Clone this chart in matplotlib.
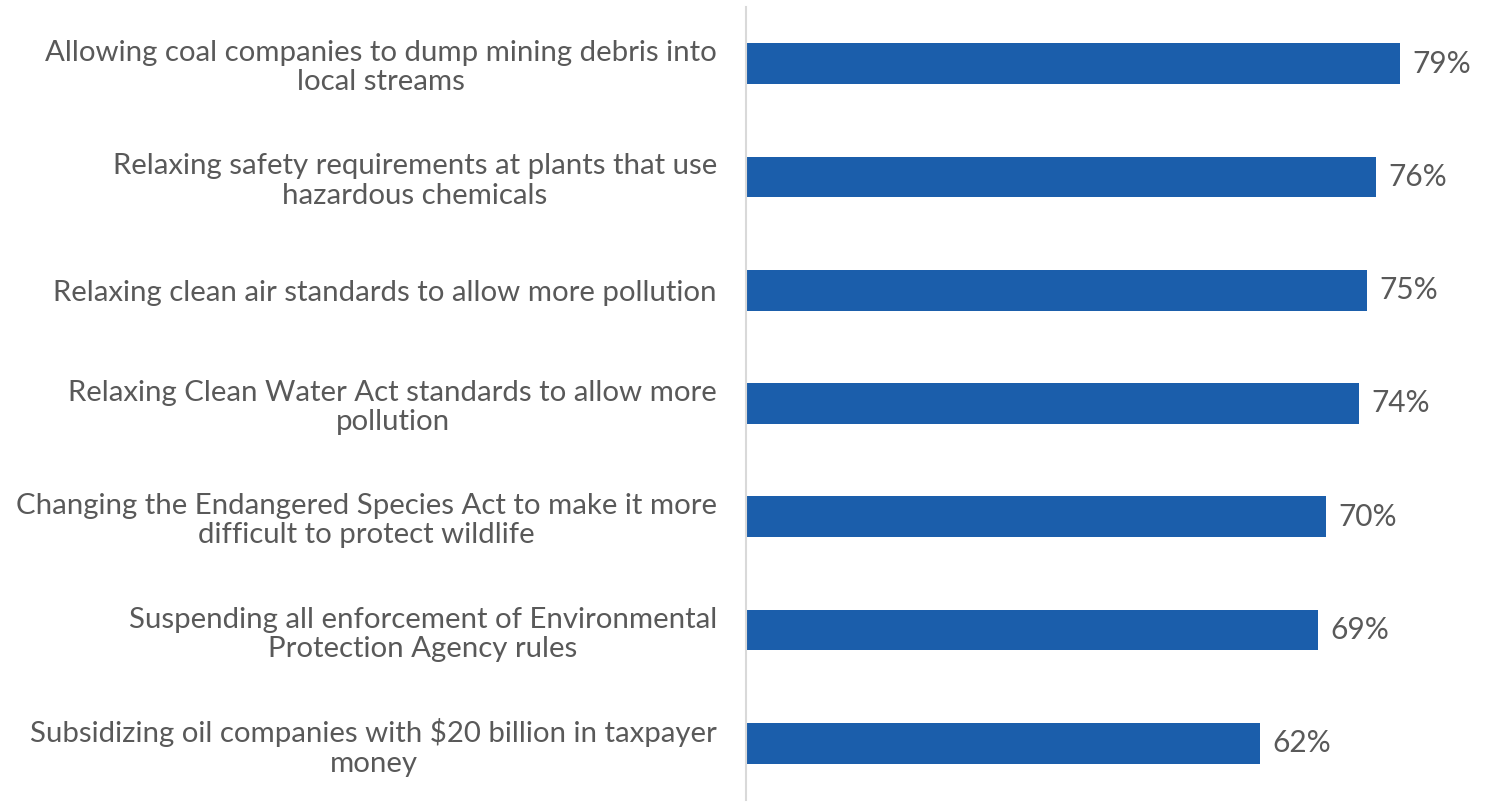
import matplotlib
matplotlib.use("Agg")
import matplotlib.pyplot as plt

labels = [
    "Allowing coal companies to dump mining debris into\nlocal streams",
    "Relaxing safety requirements at plants that use\nhazardous chemicals",
    "Relaxing clean air standards to allow more pollution",
    "Relaxing Clean Water Act standards to allow more\npollution",
    "Changing the Endangered Species Act to make it more\ndifficult to protect wildlife",
    "Suspending all enforcement of Environmental\nProtection Agency rules",
    "Subsidizing oil companies with $20 billion in taxpayer\nmoney",
]
values = [79, 76, 75, 74, 70, 69, 62]

plt.rcParams['font.family'] = ['Lato', 'DejaVu Sans']
text_color = '#595959'
bar_color = '#1b5eab'

fig = plt.figure(figsize=(14.96, 8.02), dpi=100)
ax = fig.add_axes([0.4987, 0.0025, 0.4983, 0.9888])

pos = list(range(len(values)))
ax.barh(pos, values, height=0.36, color=bar_color)
ax.set_ylim(len(values) - 0.5, -0.5)
ax.set_xlim(0, 90)

for p, v in zip(pos, values):
    ax.text(v + 1.5, p, f"{v}%", va='center', ha='left', fontsize=21.5, color=text_color)

ax.set_yticks(pos)
ax.set_yticklabels(labels, fontsize=21.2, color=text_color, linespacing=1.15,
                   multialignment='center')
ax.tick_params(axis='y', length=0, pad=21)
ax.set_xticks([])
for s in ['top', 'right', 'bottom']:
    ax.spines[s].set_visible(False)
ax.spines['left'].set_color('#d9d9d9')
ax.spines['left'].set_linewidth(1.5)

fig.savefig('out.png', dpi=100)
